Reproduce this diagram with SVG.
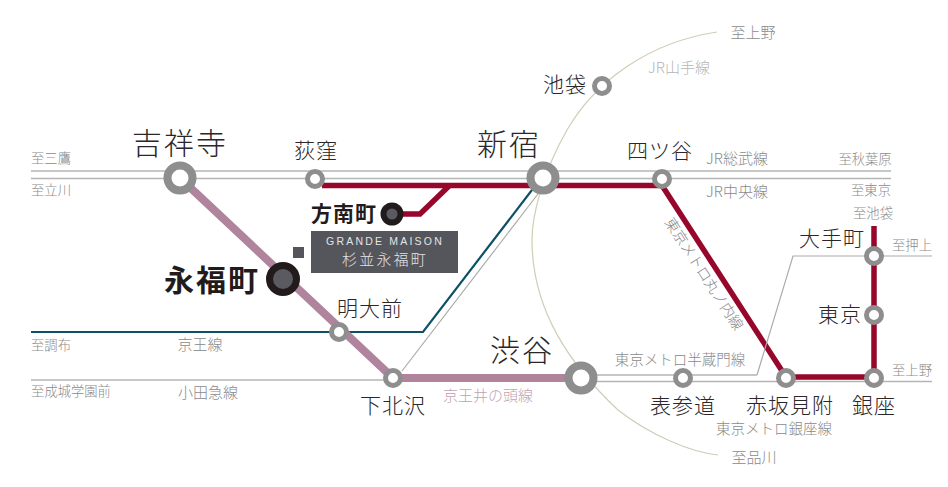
<svg xmlns="http://www.w3.org/2000/svg" width="948" height="487" viewBox="0 0 948 487">
<style>
text{font-family:"Noto Sans CJK JP","Noto Sans",sans-serif;text-anchor:middle}
.line{fill:none;stroke-linejoin:miter}
.g{stroke:#b5b5b5;stroke-width:1.700}
.t{stroke:#ababab;stroke-width:1.200}
.red{stroke:#97072c;stroke-width:5.500}
.pink{stroke:#b0849c;stroke-width:8}
.st{fill:#fff;stroke:#8e8e8e}
.big{stroke-width:8}
.small{stroke-width:5}
.cur{fill:#2b2628;font-size:21px;font-weight:300;letter-spacing:1px}
.lg{fill:#2b2628;font-size:30px;font-weight:300;letter-spacing:2px}
.to{fill:#8a8a8a;font-size:13.300px;font-weight:300}
.ln{fill:#8a8a8a;font-size:15px;font-weight:300}
</style>
<rect width="948" height="487" fill="#fff"/>
<g id="connectors">
<path class="line" d="M717 32C650 42 596 80 567 130C543 172 532 215 532 240C532 310 570 365 618 410C650 435 690 452 718 455" stroke="#cfcdb6" stroke-width="1.200"/>
<path class="line g" d="M31 171H891M31 178.500H891"/>
<path class="line g" d="M31 380H393"/>
<path class="line" d="M31 332H423L535 186" stroke="#0e5068" stroke-width="2.200"/>
<path class="line t" d="M402 371L541 190"/>
<path class="line red" d="M322 185.500H662L786 377H874V226"/>
<path class="line red" d="M449 186L420 214H392"/>
<path class="line pink" d="M180 178L393 378H581"/>
<path class="line g" d="M581 375H757"/>
<path class="line t" d="M757 375L793 256H874H932"/>
<path class="line g" d="M581 381.500H932"/>
</g>
<g id="kichijoji"><circle class="st big" cx="180" cy="178" r="12.500"/><text class="lg" x="180" y="154">吉祥寺</text></g>
<g id="ogikubo"><circle class="st small" cx="315" cy="179" r="7.500"/><text class="cur" x="316" y="158">荻窪</text></g>
<g id="shinjuku"><circle class="st big" cx="543" cy="178" r="12.500"/><text class="lg" x="509" y="155">新宿</text></g>
<g id="yotsuya"><circle class="st small" cx="662" cy="179" r="7.500"/><text class="cur" x="660" y="158">四ツ谷</text></g>
<g id="ikebukuro"><circle class="st small" cx="602" cy="86" r="7.500"/><text class="cur" x="565" y="92">池袋</text></g>
<g id="honancho"><circle cx="392" cy="214" r="8.500" fill="#5a5a60" stroke="#231a1c" stroke-width="6"/><text x="344" y="221" font-size="21" font-weight="700" fill="#231a1c" letter-spacing="1">方南町</text></g>
<g id="nagafukucho"><circle cx="283" cy="279" r="13.500" fill="#5a5a60" stroke="#231a1c" stroke-width="7"/><text x="212" y="291" font-size="30" font-weight="700" fill="#231a1c" letter-spacing="2">永福町</text></g>
<g id="grande-maison"><rect x="293" y="247" width="11" height="11" fill="#55555c"/><rect x="311" y="231" width="147" height="42" fill="#55555c"/><text x="385" y="245" font-size="10.500" fill="#e4e4e6" letter-spacing="2.200" style="font-family:'Liberation Sans',sans-serif">GRANDE MAISON</text><text x="385" y="265" font-size="15" font-weight="300" fill="#e4e4e6" letter-spacing="2.200">杉並永福町</text></g>
<g id="meidaimae"><circle class="st small" cx="339" cy="332" r="7.500"/><text class="cur" x="370" y="316">明大前</text></g>
<g id="shimokitazawa"><circle class="st small" cx="393" cy="378" r="7.500"/><text class="cur" x="393" y="413">下北沢</text></g>
<g id="shibuya"><circle class="st big" cx="581" cy="378" r="12.500"/><text class="lg" x="522" y="361">渋谷</text></g>
<g id="omotesando"><circle class="st small" cx="683" cy="378" r="7.500"/><text class="cur" x="683" y="413">表参道</text></g>
<g id="akasakamitsuke"><circle class="st small" cx="786" cy="378" r="7.500"/><text class="cur" x="790" y="413">赤坂見附</text></g>
<g id="ginza"><circle class="st small" cx="874" cy="378" r="7.500"/><text class="cur" x="874" y="413">銀座</text></g>
<g id="tokyo"><circle class="st small" cx="874" cy="315" r="7.500"/><text class="cur" x="840" y="322">東京</text></g>
<g id="otemachi"><circle class="st small" cx="874" cy="256" r="7.500"/><text class="cur" x="832" y="246">大手町</text></g>
<g id="labels">
<text class="to" x="51" y="163">至三鷹</text>
<text class="to" x="51" y="195">至立川</text>
<text class="to" x="51" y="350">至調布</text>
<text class="to" x="71" y="396">至成城学園前</text>
<text class="ln" x="200" y="350">京王線</text>
<text class="ln" x="208" y="398">小田急線</text>
<text class="ln" x="488" y="401" style="fill:#c39fb3">京王井の頭線</text>
<text class="ln" x="680" y="365" style="font-size:14.500px">東京メトロ半蔵門線</text>
<text class="ln" x="774" y="434" style="font-size:14.500px">東京メトロ銀座線</text>
<text class="to" x="754" y="463" style="font-size:15px">至品川</text>
<text class="to" x="753" y="38" style="font-size:15px">至上野</text>
<text class="ln" x="679" y="73" style="fill:#b5b5b5">JR山手線</text>
<text class="ln" x="737" y="164">JR総武線</text>
<text class="ln" x="737" y="197">JR中央線</text>
<text class="to" x="865" y="164">至秋葉原</text>
<text class="to" x="871" y="195">至東京</text>
<text class="to" x="873" y="218">至池袋</text>
<text class="to" x="912" y="250">至押上</text>
<text class="to" x="912" y="375">至上野</text>
<text class="ln" transform="translate(704 274) rotate(57)" y="5" style="font-size:14.500px">東京メトロ丸ノ内線</text>
</g>
</svg>
